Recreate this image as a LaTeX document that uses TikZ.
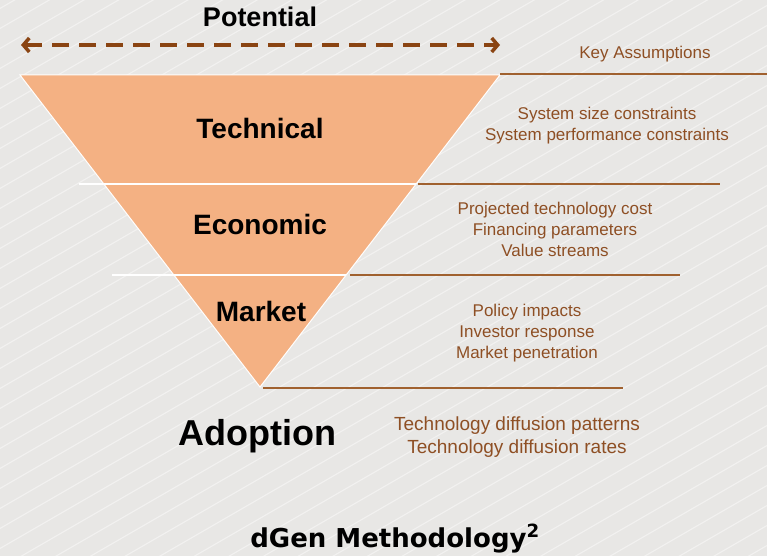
\documentclass[tikz,border=0pt]{standalone}
\usepackage{fontspec}
\setmainfont{Liberation Sans}
\newfontfamily\titlefont{DejaVu Sans}
\usetikzlibrary{arrows.meta}
\definecolor{bgGrey}{HTML}{E8E7E5}
\definecolor{funnelOrange}{HTML}{F4B183}
\definecolor{assumeBrown}{HTML}{8E4F24}
\definecolor{ruleBrown}{HTML}{A0612F}
\definecolor{arrowBrown}{HTML}{8A4412}
\newcommand{\stagefont}{\fontsize{28}{30}\selectfont\bfseries}
\newcommand{\notefont}{\fontsize{17}{21}\selectfont}

\begin{document}
\begin{tikzpicture}[x=1pt,y=-1pt,
		stage/.style={anchor=base, inner sep=0pt, font=\stagefont},
		note/.style={anchor=base, inner sep=0pt, align=center, text=assumeBrown, font=\notefont},
		rule/.style={ruleBrown, line width=2pt},
		band/.style={white, line width=1.5pt}]

		\fill[bgGrey] (0,0) rectangle (767,556);
		\useasboundingbox (0,0) rectangle (767,556);
		\begin{scope}
			\clip (0,0) rectangle (767,556);
			\foreach \k in {0,...,52}
				\draw[white, opacity=0.45, line width=1.1pt] (-20,{\k*20}) -- ++(800,-462);
		\end{scope}

		% funnel
		\coordinate (topL) at (20,75);
		\coordinate (topR) at (500,75);
		\coordinate (apex) at (260,387);
		\fill[funnelOrange, draw=white, line width=1pt] (topL) -- (topR) -- (apex) -- cycle;

		\draw[band] (79,184) -- (416,184);
		\draw[band] (112,275) -- (346,275);

		\draw[rule] (topR) ++(0,-1) -- (767,74);
		\draw[rule] (418,184) -- (720,184);
		\draw[rule] (350,275) -- (680,275);
		\draw[rule] (apex) ++(3,1) -- (623,388);

		% potential arrow
		\node[stage, font=\fontsize{27}{30}\selectfont\bfseries] (potential) at (260,27) {Potential};
		\coordinate (arrL) at (21,45);
		\coordinate (arrR) at (500,45);
		\draw[arrowBrown, line width=3.5pt, dash pattern=on 17pt off 10pt,
			{Straight Barb[length=6pt,width=14pt]}-{Straight Barb[length=6pt,width=14pt]}] (arrL) -- (arrR);

		\node[stage] (technical) at (260,139) {Technical};
		\node[stage] (economic) at (260,234) {Economic};
		\node[stage] (market) at (261,321) {Market};
		\node[stage, font=\fontsize{36}{40}\selectfont\bfseries] (adoption) at (257,445) {Adoption};

		% base of a multi-line note is its last line
		\node[note] (keyAssume) at (645,59) {Key Assumptions};
		\node[note] (techNote) at (607,141) {System size constraints\\System performance constraints};
		\node[note] (econNote) at (555,256) {Projected technology cost\\Financing parameters\\Value streams};
		\node[note] (marketNote) at (527,358) {Policy impacts\\Investor response\\Market penetration};
		\node[note, font=\fontsize{19}{23}\selectfont] (adoptNote) at (517,453) {Technology diffusion patterns\\Technology diffusion rates};

		\node[anchor=base, inner sep=0pt, font=\titlefont\bfseries\fontsize{26}{30}\selectfont] (title) at (395,547) {dGen Methodology\textsuperscript{2}};
	\end{tikzpicture}
\end{document}
